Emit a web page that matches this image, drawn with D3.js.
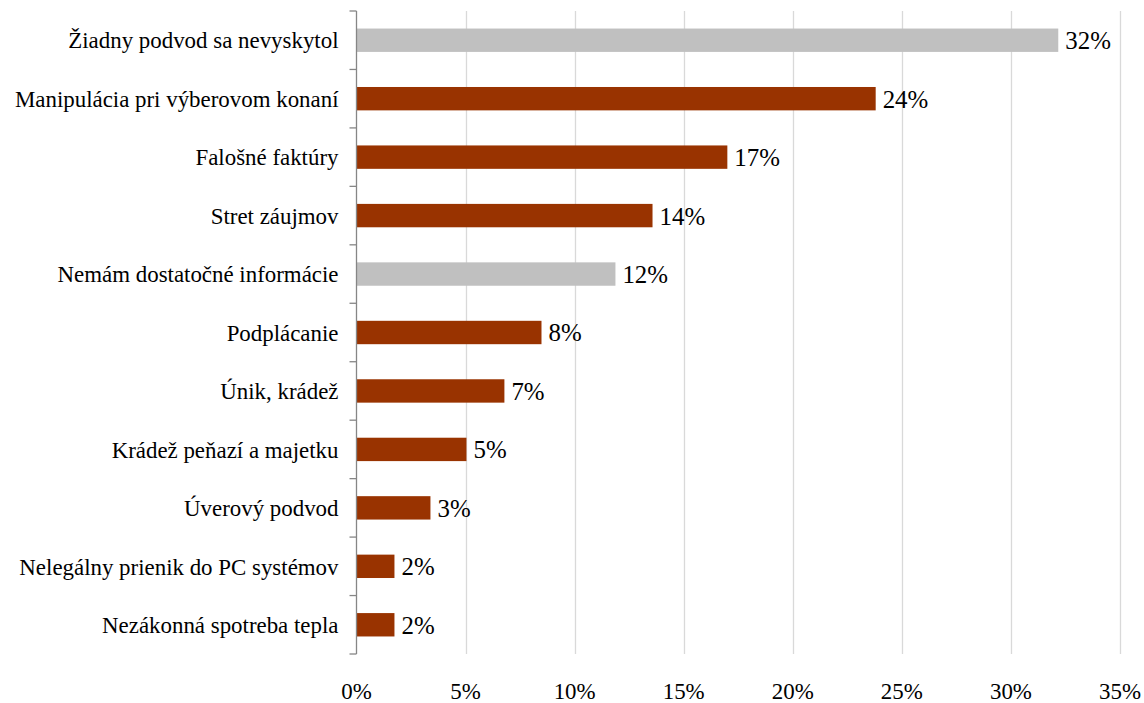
<!DOCTYPE html>
<html><head><meta charset="utf-8">
<script src="https://cdn.jsdelivr.net/npm/d3@7"></script>
</head><body style="margin:0;background:#fff"><svg id="c" width="1144" height="703" style="display:block"></svg>
<script>
const categories = ["Žiadny podvod sa nevyskytol","Manipulácia pri výberovom konaní","Falošné faktúry","Stret záujmov","Nemám dostatočné informácie","Podplácanie","Únik, krádež ","Krádež peňazí a majetku","Úverový podvod","Nelegálny prienik do PC systémov","Nezákonná spotreba tepla"];
const values = [0.3217,0.238,0.170,0.1357,0.1187,0.0848,0.0678,0.0504,0.0339,0.0174,0.0174];
const neutral = [true,false,false,false,true,false,false,false,false,false,false];
const xTicks = [0,0.05,0.10,0.15,0.20,0.25,0.30,0.35];

const FONT = '"Times New Roman"';
const svg = d3.select("#c");
const L = 356.5, R = 1120, T = 11, B = 654;
const x = d3.scaleLinear().domain([0,0.35]).range([L,R]);
const y = d3.scaleBand().domain(categories).range([T,B]).paddingInner(0.6).paddingOuter(0.3);
const fmt = d3.format(".0%");

// gridlines
svg.append("g").selectAll("line").data(xTicks.slice(1)).join("line")
  .attr("x1",d=>Math.round(x(d))+0.5).attr("x2",d=>Math.round(x(d))+0.5)
  .attr("y1",T).attr("y2",B).attr("stroke","#d9d9d9").attr("stroke-width",1.3);

// bars
svg.append("g").selectAll("rect").data(categories).join("rect")
  .attr("x",L).attr("y",d=>y(d)).attr("height",y.bandwidth())
  .attr("width",(d,i)=>x(values[i])-L)
  .attr("fill",(d,i)=>neutral[i]?"#c0c0c0":"#993300");

// value labels
svg.selectAll("text.v").data(categories).join("text").attr("class","v")
  .attr("x",(d,i)=>x(values[i])+7).attr("y",d=>y(d)+y.bandwidth()/2)
  .attr("dy","0.36em").style("font-family",FONT).style("font-size","24.9px")
  .text((d,i)=>fmt(values[i]));

// left axis
const step = (B-T)/categories.length;
svg.append("line").attr("x1",L).attr("x2",L).attr("y1",T).attr("y2",B).attr("stroke","#868686").attr("stroke-width",1.3);
svg.selectAll("line.t").data(d3.range(categories.length+1)).join("line").attr("class","t")
  .attr("x1",L-7).attr("x2",L).attr("y1",i=>T+i*step).attr("y2",i=>T+i*step)
  .attr("stroke","#868686").attr("stroke-width",1.3);
svg.selectAll("text.c").data(categories).join("text").attr("class","c")
  .attr("x",L-18).attr("y",d=>y(d)+y.bandwidth()/2).attr("dy","0.36em")
  .attr("text-anchor","end").style("font-family",FONT).style("font-size","22.9px")
  .text(d=>d);

// bottom tick labels
svg.selectAll("text.x").data(xTicks).join("text").attr("class","x")
  .attr("x",d=>x(d)).attr("y",B+45).attr("text-anchor","middle")
  .style("font-family",FONT).style("font-size","22.9px").text(d=>fmt(d));
</script></body></html>
